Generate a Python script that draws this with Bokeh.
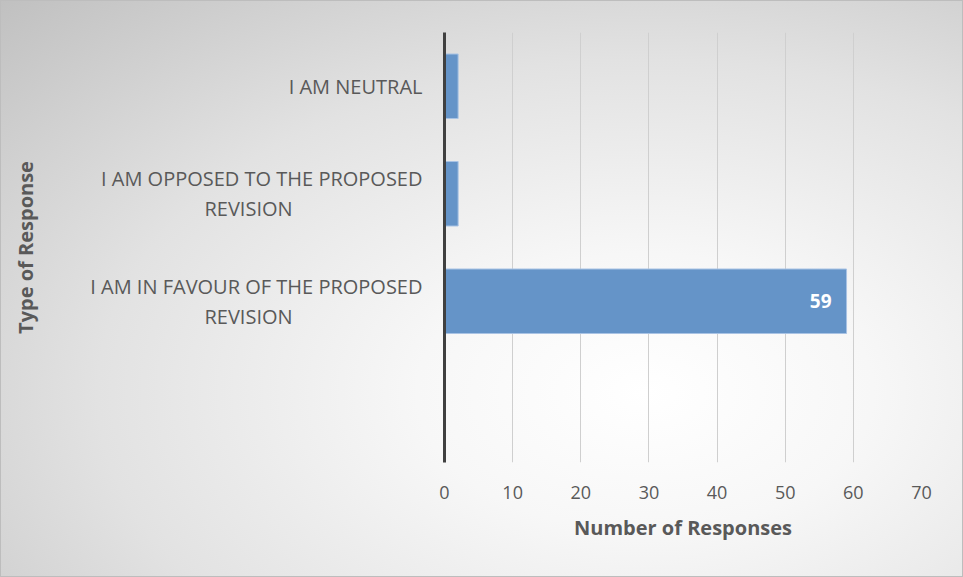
from bokeh.plotting import figure
from bokeh.models import Range1d, ColumnDataSource, FixedTicker
from bokeh.core.properties import value
from bokeh.embed import file_html
from bokeh.resources import INLINE

# ---- data ----
categories = [
    "I AM NEUTRAL",
    "I AM OPPOSED TO THE PROPOSED REVISION",
    "I AM IN FAVOUR OF THE PROPOSED REVISION",
    " ",
]
label_line1 = ["I AM NEUTRAL", "I AM OPPOSED TO THE PROPOSED", "I AM IN FAVOUR OF THE PROPOSED", ""]
label_line2 = ["", "REVISION", "REVISION", ""]
values = [2, 2, 59, 0]
shown_labels = ["", "", "59", ""]
x_ticks = [0, 10, 20, 30, 40, 50, 60, 70]

FONT = "Open Sans"
GREY = "#595959"
NB = "\u00a0"

n = len(categories)
# slot centre of each category, first category at the top
slot = [n - 1 - k + 0.5 for k in range(n)]

p = figure(
    width=963, height=577,
    y_range=Range1d(0, n),
    x_range=Range1d(0, 70),
    output_backend="svg", toolbar_location=None,
    min_border_left=444, min_border_right=42,
    min_border_top=32, min_border_bottom=115,
)
p.background_fill_color = None
p.border_fill_color = None
p.outline_line_color = None
p.styles = {
    "background": "radial-gradient(ellipse farthest-corner at 67% 68%, #ffffff 0%, #f7f7f7 25%, #e2e2e2 60%, #c0c0c0 100%)",
    "box-shadow": "inset 0 0 0 1px #bdbdbd",
}

src = ColumnDataSource(dict(y=slot, val=values, lab=shown_labels))
p.hbar(y="y", right="val", left=0, height=0.6, source=src,
       fill_color="#6594c8", line_color="#a9c3e4", line_width=1)

p.text(x="val", y="y", text="lab", source=src, text_align="right",
       text_baseline="middle", x_offset=-15, text_color="white",
       text_font_size="19px", text_font_style="bold", text_font=value(FONT))

# x axis
p.xaxis.ticker = x_ticks
p.xaxis.axis_line_color = None
p.xaxis.major_tick_line_color = None
p.xaxis.minor_tick_line_color = None
p.xaxis.major_label_text_font = FONT
p.xaxis.major_label_text_font_size = "18px"
p.xaxis.major_label_text_color = GREY
p.xaxis.major_label_standoff = 17
p.xaxis.axis_label = "Number of Responses"
p.xaxis.axis_label_text_font = FONT
p.xaxis.axis_label_text_font_size = "20px"
p.xaxis.axis_label_text_font_style = "bold"
p.xaxis.axis_label_text_color = GREY
p.xaxis.axis_label_standoff = 12

# y axis: category labels, wrapped ones on two rows
shift = 0.14  # half a text line, in slot units
ticks, overrides = [], {}
for k in range(n):
    l1, l2 = label_line1[k], label_line2[k]
    if not l1:
        continue
    if l2:
        t1 = round(slot[k] + shift, 4)
        t2 = round(slot[k] - shift, 4)
        ticks += [t1, t2]
        overrides[t1] = l1
        overrides[t2] = l2 + NB * 25
    else:
        t = round(slot[k], 4)
        ticks.append(t)
        overrides[t] = l1

yax = p.yaxis[0]
yax.ticker = FixedTicker(ticks=ticks)
yax.major_label_overrides = overrides
yax.axis_line_color = "#404040"
yax.axis_line_width = 3
yax.major_tick_line_color = None
yax.minor_tick_line_color = None
yax.major_label_text_font = FONT
yax.major_label_text_font_size = "20px"
yax.major_label_text_color = GREY
yax.major_label_standoff = 16
yax.axis_label = "Type of Response"
yax.axis_label_text_font = FONT
yax.axis_label_text_font_size = "20px"
yax.axis_label_text_font_style = "bold"
yax.axis_label_text_color = GREY
yax.axis_label_standoff = 48

p.ygrid.grid_line_color = None
p.xgrid.grid_line_color = "#cfcfcf"
p.xgrid.grid_line_width = 1

open("out.html", "w").write(file_html(p, INLINE))
